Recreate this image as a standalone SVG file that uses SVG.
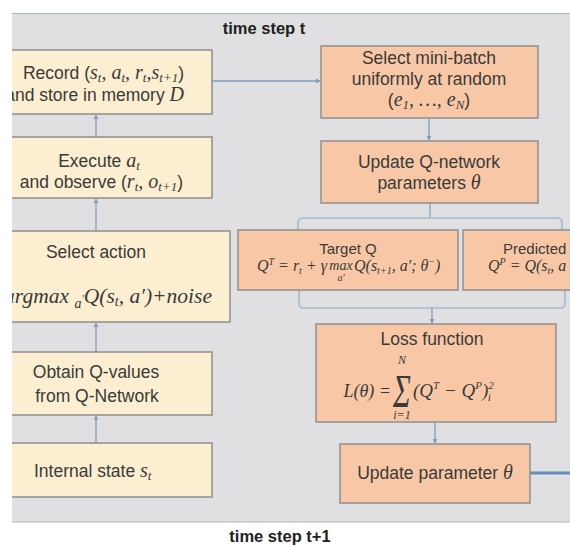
<svg xmlns="http://www.w3.org/2000/svg" width="570" height="546" viewBox="0 0 570 546">
  <style>
    .panel { fill: #e0e0e2; }
    .edge { stroke: #a6b8ca; stroke-width: 1.2; fill: none; }
    .yel { fill: #fcefd1; stroke: #8e8e8e; stroke-width: 1.5; }
    .org { fill: #f8c8a6; stroke: #8e8e8e; stroke-width: 1.5; }
    .lbl { font-family: "Liberation Sans", Arial, sans-serif; font-size: 17.5px; fill: #3a3a3a; }
    .sm { font-family: "Liberation Sans", Arial, sans-serif; font-size: 15px; fill: #3a3a3a; }
    .m { font-family: "Liberation Serif", "Times New Roman", serif; font-style: italic; fill: #3a3a3a; }
    .mi { font-family: "Liberation Serif", "Times New Roman", serif; font-style: italic; font-size: 20px; }
    .sb { font-size: 13px; }
    .hdr { font-family: "Liberation Sans", Arial, sans-serif; font-size: 16.5px; font-weight: bold; fill: #222; }
    .con { stroke: #7f9fbd; stroke-width: 1.3; fill: none; }
    .brace { stroke: #a3bbd0; stroke-width: 1.6; fill: none; }
  </style>
  <defs>
    <marker id="tip" viewBox="0 0 6 6" refX="5" refY="3" markerWidth="4" markerHeight="4" orient="auto">
      <path d="M0,0 L6,3 L0,6 z" fill="#7f9fbd"/>
    </marker>
    <clipPath id="view">
      <rect x="12" y="0" width="558" height="546"/>
    </clipPath>
  </defs>

  <rect width="570" height="546" fill="#ffffff"/>

  <g clip-path="url(#view)">
    <!-- background panel for one time step -->
    <rect class="panel" x="12" y="13" width="560" height="509"/>
    <line class="edge" x1="12" y1="13.5" x2="570" y2="13.5"/>
    <line class="edge" x1="12" y1="522" x2="570" y2="522"/>

    <!-- connectors -->
    <g id="connectors">
      <line class="con" x1="96" y1="443" x2="96" y2="416" marker-end="url(#tip)"/>
      <line class="con" x1="96" y1="352" x2="96" y2="323" marker-end="url(#tip)"/>
      <line class="con" x1="96" y1="231" x2="96" y2="199" marker-end="url(#tip)"/>
      <line class="con" x1="96" y1="137" x2="96" y2="115" marker-end="url(#tip)"/>
      <line class="con" x1="212" y1="81" x2="320" y2="81" marker-end="url(#tip)"/>
      <line class="con" x1="429" y1="118" x2="429" y2="140" marker-end="url(#tip)"/>
      <line class="con" x1="430" y1="203" x2="430" y2="218"/>
      <path class="brace" d="M298,230 V223 Q298,218 303,218 H557 Q562,218 562,223 V230"/>
      <path class="brace" d="M299,290 V303 Q299,308 304,308 H560 Q565,308 565,303 V290"/>
      <line class="con" x1="432" y1="308" x2="432" y2="323" marker-end="url(#tip)"/>
      <line class="con" x1="435" y1="422" x2="435" y2="443" marker-end="url(#tip)"/>
      <line x1="530" y1="473" x2="572" y2="473" stroke="#5f8fbf" stroke-width="3"/>
    </g>

    <!-- agent side -->
    <g id="record">
      <rect class="yel" x="-10" y="50" width="222" height="64"/>
      <text class="lbl" x="184" y="79" text-anchor="end">Record (<tspan class="mi">s</tspan><tspan class="mi sb" dy="3">t</tspan><tspan class="mi" dy="-3">, a</tspan><tspan class="mi sb" dy="3">t</tspan><tspan class="mi" dy="-3">, r</tspan><tspan class="mi sb" dy="3">t</tspan><tspan class="mi" dy="-3">,s</tspan><tspan class="mi sb" dy="3">t+1</tspan><tspan dy="-3">)</tspan></text>
      <text class="lbl" x="184" y="101" text-anchor="end">and store in memory <tspan class="mi">D</tspan></text>
    </g>

    <g id="execute">
      <rect class="yel" x="-10" y="137" width="222" height="61"/>
      <text class="lbl" x="99" y="167" text-anchor="middle">Execute <tspan class="mi">a</tspan><tspan class="mi sb" dy="3">t</tspan></text>
      <text class="lbl" x="183" y="188" text-anchor="end">and observe (<tspan class="mi">r</tspan><tspan class="mi sb" dy="3">t</tspan><tspan class="mi" dy="-3">, o</tspan><tspan class="mi sb" dy="3">t+1</tspan><tspan dy="-3">)</tspan></text>
    </g>

    <g id="select-action">
      <rect class="yel" x="-10" y="231" width="240" height="91"/>
      <text class="lbl" x="96" y="258" text-anchor="middle">Select action</text>
      <text class="m" x="212" y="303" text-anchor="end" font-size="21.5">argmax <tspan font-size="14" dy="5">a</tspan><tspan font-size="11" dy="-6">′</tspan><tspan dy="1">Q(s</tspan><tspan font-size="14" dy="3">t</tspan><tspan dy="-3">, a′)+noise</tspan></text>
    </g>

    <g id="q-values">
      <rect class="yel" x="-10" y="352" width="222" height="63"/>
      <text class="lbl" x="96" y="378" text-anchor="middle">Obtain Q-values</text>
      <text class="lbl" x="97" y="402" text-anchor="middle">from Q-Network</text>
    </g>

    <g id="state">
      <rect class="yel" x="-10" y="443" width="222" height="54"/>
      <text class="lbl" x="34" y="477">Internal state <tspan class="mi">s</tspan><tspan class="mi sb" dy="3">t</tspan></text>
    </g>

    <!-- learning side -->
    <g id="minibatch">
      <rect class="org" x="321" y="46" width="217" height="72"/>
      <text class="lbl" x="429" y="64" text-anchor="middle">Select mini-batch</text>
      <text class="lbl" x="429" y="85" text-anchor="middle">uniformly at random</text>
      <text class="lbl" x="429" y="106" text-anchor="middle">(<tspan class="mi">e</tspan><tspan class="mi sb" dy="3">1</tspan><tspan class="mi" dy="-3">, …, e</tspan><tspan class="mi sb" dy="3">N</tspan><tspan dy="-3">)</tspan></text>
    </g>

    <g id="update-net">
      <rect class="org" x="321" y="141" width="217" height="62"/>
      <text class="lbl" x="429" y="168" text-anchor="middle">Update Q-network</text>
      <text class="lbl" x="429" y="189" text-anchor="middle">parameters <tspan class="mi">θ</tspan></text>
    </g>

    <g id="target-q">
      <rect class="org" x="238" y="230" width="220" height="60"/>
      <text class="sm" x="348" y="254" text-anchor="middle">Target Q</text>
      <text class="m" x="327" y="271" text-anchor="end" font-size="16">Q<tspan font-size="10" dy="-6">T</tspan><tspan dy="6"> = r</tspan><tspan font-size="10" dy="3">t</tspan><tspan dy="-3"> + γ</tspan></text>
      <text class="m" x="341" y="270" text-anchor="middle" font-size="14" font-style="normal">max</text>
      <text class="m" x="341" y="281" text-anchor="middle" font-size="10">a′</text>
      <text class="m" x="354" y="271" font-size="16">Q(s<tspan font-size="10" dy="3">t+1</tspan><tspan dy="-3">, a′; θ</tspan><tspan font-size="10" dy="-6">−</tspan><tspan dy="6">)</tspan></text>
    </g>

    <g id="predicted-q">
      <rect class="org" x="463" y="230" width="140" height="60"/>
      <text class="sm" x="503" y="254">Predicted</text>
      <text class="m" x="488" y="271" font-size="16">Q<tspan font-size="10" dy="-6">P</tspan><tspan dy="6"> =  Q(s</tspan><tspan font-size="10" dy="3">t</tspan><tspan dy="-3">, a</tspan></text>
    </g>

    <g id="loss">
      <rect class="org" x="316" y="324" width="240" height="98"/>
      <text class="lbl" x="432" y="345" text-anchor="middle">Loss function</text>
      <text class="m" x="391" y="397" text-anchor="end" font-size="18">L(θ) =</text>
      <text class="m" x="402" y="364" text-anchor="middle" font-size="12">N</text>
      <text class="m" x="0" y="0" text-anchor="middle" font-size="30" font-style="normal" transform="translate(402,407) scale(1,1.55)">Σ</text>
      <text class="m" x="402" y="419" text-anchor="middle" font-size="12">i=1</text>
      <text class="m" x="413" y="397" font-size="19">(Q<tspan font-size="11" dy="-8">T</tspan><tspan dy="8"> − Q</tspan><tspan font-size="11" dy="-8">P</tspan><tspan dy="8">)</tspan><tspan font-size="11" dy="-8">2</tspan><tspan font-size="11" dx="-6" dy="12">i</tspan></text>
    </g>

    <g id="update-param">
      <rect class="org" x="340" y="444" width="190" height="59"/>
      <text class="lbl" x="435" y="479" text-anchor="middle">Update parameter <tspan class="mi">θ</tspan></text>
    </g>

    <text class="hdr" x="264" y="34" text-anchor="middle">time step t</text>
  </g>

  <text class="hdr" x="280" y="542" text-anchor="middle">time step t+1</text>
</svg>
